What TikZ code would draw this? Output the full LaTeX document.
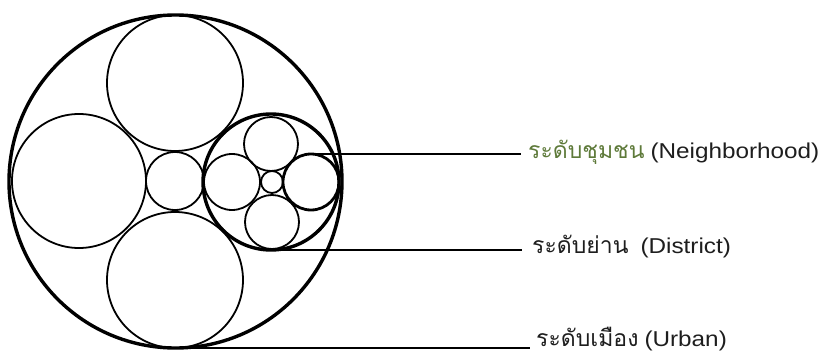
\documentclass[tikz,border=0pt]{standalone}
\usepackage{fontspec}
\setmainfont{Liberation Sans}
\newfontfamily\thaifont[Script=Thai,Scale=1.07]{Loma}
\newfontfamily\latfont[FakeStretch=1.13]{Liberation Sans}
\definecolor{nbgreen}{RGB}{94,122,58}
\definecolor{txtgray}{RGB}{30,30,30}
\begin{document}
\begin{tikzpicture}[x=1pt,y=-1pt,
  ring/.style={circle, draw=black, inner sep=0pt, outer sep=0pt, line width=1.8pt},
  heavyring/.style={ring, line width=3.4pt},
  midring/.style={ring, line width=2.8pt},
  leader/.style={draw=black, line width=1.8pt},
  lbl/.style={anchor=base west, inner sep=0pt, font=\fontsize{21.5}{25}\selectfont, text=txtgray}]
\useasboundingbox (0,0) rectangle (828,356);
% city level
\node[heavyring, minimum size=333pt] (urban) at (175.5,181.5) {};
\node[ring, minimum size=136pt] (top) at (175,83) {};
\node[ring, minimum size=136pt] (bottom) at (175,280) {};
\node[ring, minimum size=134pt] (left) at (79,181) {};
\node[ring, minimum size=58pt] (mid) at (175,181) {};
% district level
\node[heavyring, minimum size=136pt] (district) at (271,182) {};
\node[ring, minimum size=54pt] (dtop) at (271,144) {};
\node[ring, minimum size=54pt] (dbot) at (272,222) {};
\node[ring, minimum size=56pt] (dleft) at (232,182) {};
\node[midring, minimum size=56pt] (nb) at (311,182) {};
\node[ring, minimum size=22pt] (dmid) at (272,182) {};
% labels
\node[lbl] (nbl) at (528,158) {\textcolor{nbgreen}{\thaifont ระดับชุมชน} {\latfont (Neighborhood)}};
\node[lbl] (dil) at (532,253) {{\thaifont ระดับย่าน}\ \ {\latfont (District)}};
\node[lbl] (url) at (536,346) {{\thaifont ระดับเมือง} {\latfont (Urban)}};
\coordinate (nbend) at (521,154);
\coordinate (diend) at (522,250);
\coordinate (urend) at (530,348);
\draw[leader] (nb.north) -- (nbend);
\draw[leader] (district.south) -- (diend);
\draw[leader] (urban.south) -- (urend);
\end{tikzpicture}
\end{document}
